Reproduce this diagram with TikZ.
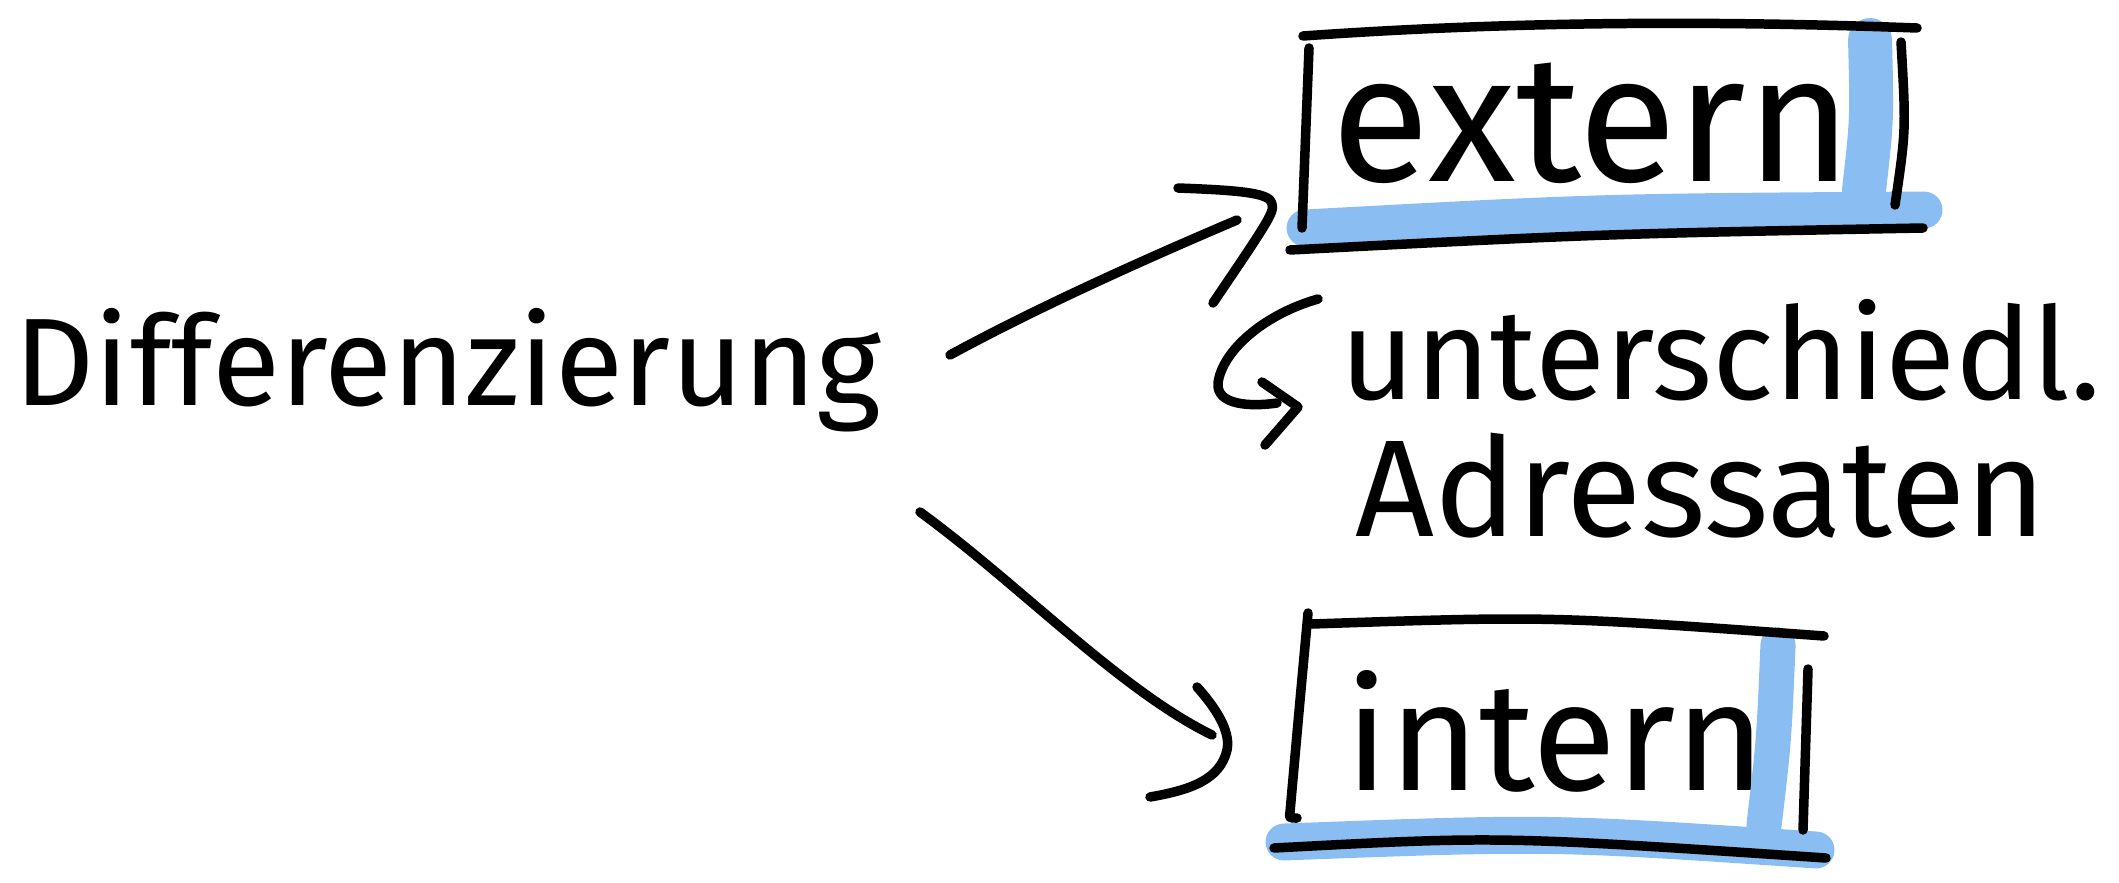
\documentclass[tikz,border=0pt]{standalone}
\usepackage{fontspec}
\setmainfont{Fira Sans}
\definecolor{mblue}{RGB}{138,190,242}
\tikzset{
  ink/.style={line width=2.7pt, line cap=round, line join=round, black},
  hl/.style={line width=11pt, line cap=round, mblue},
  hand/.style={inner sep=0pt, anchor=base west, font=\fontsize{30}{36}\selectfont},
}
\begin{document}
\begin{tikzpicture}[x=0.01cm,y=-0.01cm]
\useasboundingbox (0,0) rectangle (2119,882);
% text nodes
\node[hand] (diff) at (14,405) {\resizebox{8.66cm}{!}{Differenzierung}};
\node[hand] (ext) at (1331,182) {\resizebox{5.2cm}{!}{extern}};
\node[hand] (unt) at (1340,399) {\resizebox{7.6cm}{!}{unterschiedl.}};
\node[hand] (adr) at (1355,536) {\resizebox{6.9cm}{!}{Adressaten}};
\node[hand] (int) at (1345,790) {\resizebox{4.2cm}{!}{intern}};
% highlights (under the ink)
\draw[hl, line width=12.5pt] (1870,40) .. controls (1872,120) .. (1864,190);
\draw[hl, line width=10.5pt] (1305,228) .. controls (1600,212) .. (1924,210);
\draw[hl, line width=10pt] (1778,645) .. controls (1774,740) .. (1764,825);
\draw[hl, line width=10.5pt] (1284,842) .. controls (1550,832) .. (1816,850);
% extern box
\draw[ink] (1303,36) .. controls (1500,22) and (1700,20) .. (1917,28);
\draw[ink] (1309,48) -- (1302,228);
\draw[ink] (1901,42) .. controls (1906,130) .. (1895,205);
\draw[ink] (1290,250) .. controls (1600,234) .. (1923,228);
% intern box
\draw[ink] (1312,624) .. controls (1550,616) .. (1824,636);
\draw[ink] (1308,613) .. controls (1300,700) .. (1290,812) .. controls (1289,818) .. (1297,818);
\draw[ink] (1808,669) -- (1803,830);
\draw[ink] (1274,848) .. controls (1500,836) .. (1826,858);
% arrow coordinates
\coordinate (a1s) at (950,355);
\coordinate (a1e) at (1237,220);
\coordinate (a2s) at (920,512);
\coordinate (a2e) at (1212,735);
\coordinate (hks) at (1318,299);
\coordinate (hke) at (1277,403);
% upper arrow
\draw[ink] (a1s) .. controls (1040,306) and (1150,257) .. (a1e);
\draw[ink] (1178,188) .. controls (1230,190) and (1262,192) .. (1270,200)
  .. controls (1276,210) .. (1213,303);
% lower arrow
\draw[ink] (a2s) .. controls (1020,585) and (1120,690) .. (a2e);
\draw[ink] (1197,687) .. controls (1222,715) and (1230,735) .. (1227,750)
  .. controls (1220,780) and (1190,790) .. (1150,797);
% hook arrow
\draw[ink] (hks) .. controls (1262,315) and (1222,352) .. (1218,383)
  .. controls (1216,405) and (1250,407) .. (hke);
\draw[ink] (1262,382) -- (1298,407) -- (1265,445);
\end{tikzpicture}
\end{document}
